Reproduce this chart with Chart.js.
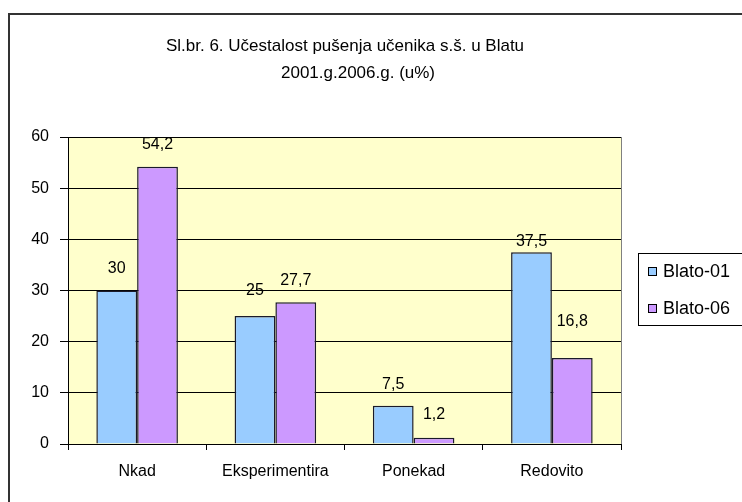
<!DOCTYPE html>
<html>
<head>
<meta charset="utf-8">
<script src="https://cdn.jsdelivr.net/npm/chart.js@4"></script>
<style>
html,body{margin:0;padding:0;background:#fff;}
#wrap{position:relative;width:742px;height:502px;}
</style>
</head>
<body>
<div id="wrap"><canvas id="c" width="742" height="502"></canvas></div>
<script>
const titleLines = ["Sl.br. 6. Učestalost pušenja učenika s.š. u Blatu", "2001.g.2006.g. (u%)"];
const categories = ["Nkad", "Eksperimentira", "Ponekad", "Redovito"];
const seriesNames = ["Blato-01", "Blato-06"];
const blato01 = [30, 25, 7.5, 37.5];
const blato06 = [54.2, 27.7, 1.2, 16.8];
const yTicks = [0, 10, 20, 30, 40, 50, 60];

const FONT = "'Liberation Sans', Arial, sans-serif";
const colors = ["#99CCFF", "#CC99FF"];
// label lift above each bar top (style, px), per series
const labelLift = [[22, 25, 21, 11], [22, 22, 23, 36]];

const decor = {
  id: 'decor',
  beforeDraw(chart) {
    const ctx = chart.ctx, a = chart.chartArea;
    ctx.save();
    ctx.fillStyle = '#fff';
    ctx.fillRect(0, 0, chart.width, chart.height);
    ctx.strokeStyle = '#333';
    ctx.lineWidth = 2;
    ctx.strokeRect(9, 14, 800, 600);
    ctx.fillStyle = '#FFFFCC';
    ctx.fillRect(a.left, a.top, a.right - a.left, a.bottom - a.top);
    ctx.restore();
  },
  afterDraw(chart) {
    const ctx = chart.ctx, a = chart.chartArea;
    ctx.save();
    ctx.strokeStyle = '#808080';
    ctx.lineWidth = 1;
    ctx.beginPath();
    ctx.moveTo(a.right + 0.5, a.top);
    ctx.lineTo(a.right + 0.5, a.bottom);
    ctx.stroke();
    ctx.fillStyle = '#000';
    ctx.font = '17px ' + FONT;
    ctx.textAlign = 'center';
    ctx.textBaseline = 'middle';
    ctx.fillText(titleLines[0], 345, 46);
    ctx.fillText(titleLines[1], 358, 73);
    ctx.strokeStyle = '#000';
    ctx.lineWidth = 1;
    ctx.strokeRect(638.5, 253.5, 140, 72);
    const ys = [272, 309];
    chart.data.datasets.forEach((ds, i) => {
      ctx.fillStyle = ds.backgroundColor;
      ctx.fillRect(648, ys[i] - 5, 9, 9);
      ctx.strokeStyle = '#000';
      ctx.strokeRect(648.5, ys[i] - 4.5, 8, 8);
      ctx.fillStyle = '#000';
      ctx.font = '18px ' + FONT;
      ctx.textAlign = 'left';
      ctx.textBaseline = 'middle';
      ctx.fillText(ds.label, 663, ys[i]);
    });
    ctx.restore();
  },
  afterDatasetsDraw(chart) {
    const ctx = chart.ctx;
    ctx.save();
    ctx.fillStyle = '#000';
    ctx.font = '16px ' + FONT;
    ctx.textAlign = 'center';
    ctx.textBaseline = 'middle';
    chart.data.datasets.forEach((ds, i) => {
      chart.getDatasetMeta(i).data.forEach((bar, j) => {
        const txt = String(ds.data[j]).replace('.', ',');
        ctx.fillText(txt, bar.x, bar.y - labelLift[i][j]);
      });
    });
    ctx.restore();
  }
};

new Chart(document.getElementById('c'), {
  type: 'bar',
  data: {
    labels: categories,
    datasets: [
      { label: seriesNames[0], data: blato01, backgroundColor: colors[0], borderColor: '#1a1a2a', borderWidth: 1.5 },
      { label: seriesNames[1], data: blato06, backgroundColor: colors[1], borderColor: '#1a1a2a', borderWidth: 1.5 }
    ]
  },
  options: {
    responsive: false,
    animation: false,
    devicePixelRatio: 1,
    layout: { padding: { left: 0, top: 137, right: 121, bottom: 0 } },
    datasets: { bar: { categoryPercentage: 0.59, barPercentage: 1.0 } },
    plugins: { legend: { display: false }, title: { display: false }, tooltip: { enabled: false } },
    scales: {
      x: {
        offset: true,
        grid: { offset: true, drawOnChartArea: false, color: '#000', tickLength: 6 },
        border: { display: true, color: '#000' },
        ticks: { color: '#000', font: { family: FONT, size: 16 }, padding: 12, maxRotation: 0 },
        afterFit(s) { s.height = 58; }
      },
      y: {
        min: 0, max: 60,
        afterBuildTicks(s) { s.ticks = yTicks.map(v => ({ value: v })); },
        grid: { color: '#000', tickLength: 8 },
        border: { display: true, color: '#000' },
        ticks: { color: '#000', font: { family: FONT, size: 16 }, padding: 11 },
        afterFit(s) { s.width = 68; }
      }
    }
  },
  plugins: [decor]
});
</script>
</body>
</html>
